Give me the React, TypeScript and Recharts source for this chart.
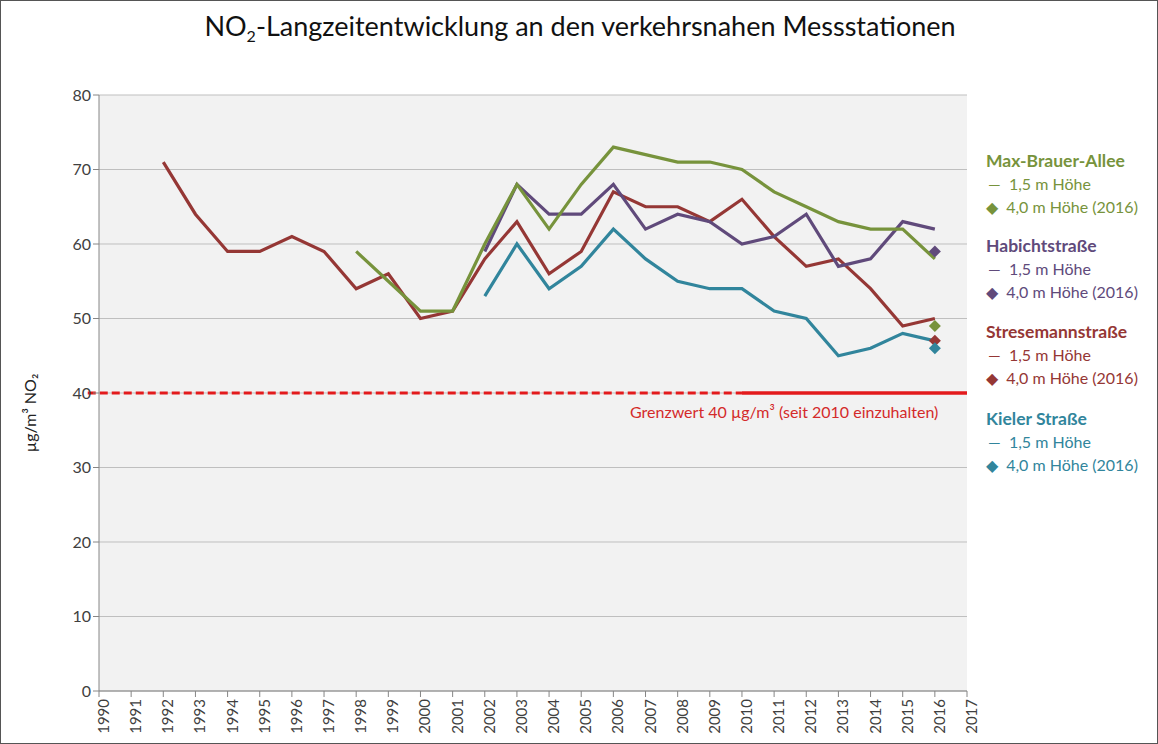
import { ComposedChart, Line, Scatter, XAxis, YAxis, CartesianGrid, ReferenceLine } from 'recharts';

// years on the x axis
const YEARS = [1990, 1991, 1992, 1993, 1994, 1995, 1996, 1997, 1998, 1999, 2000, 2001, 2002, 2003,
    2004, 2005, 2006, 2007, 2008, 2009, 2010, 2011, 2012, 2013, 2014, 2015, 2016, 2017];

// 1,5 m Höhe, one value per year (null = no measurement)
const MAX_BRAUER = [null, null, null, null, null, null, null, null, 59, 55, 51, 51, 60, 68,
    62, 68, 73, 72, 71, 71, 70, 67, 65, 63, 62, 62, 58, null];
const HABICHT = [null, null, null, null, null, null, null, null, null, null, null, null, 59, 68,
    64, 64, 68, 62, 64, 63, 60, 61, 64, 57, 58, 63, 62, null];
const STRESEMANN = [null, null, 71, 64, 59, 59, 61, 59, 54, 56, 50, 51, 58, 63,
    56, 59, 67, 65, 65, 63, 66, 61, 57, 58, 54, 49, 50, null];
const KIELER = [null, null, null, null, null, null, null, null, null, null, null, null, 53, 60,
    54, 57, 62, 58, 55, 54, 54, 51, 50, 45, 46, 48, 47, null];

// 4,0 m Höhe (2016)
const MARKER_YEAR = 2016;
const MAX_BRAUER_4M = 49;
const HABICHT_4M = 59;
const STRESEMANN_4M = 47;
const KIELER_4M = 46;

const Y_TICKS = [0, 10, 20, 30, 40, 50, 60, 70, 80];
const LIMIT = 40;
const LIMIT_FROM = 2010;

const GREEN = '#77933c';
const PURPLE = '#604a7b';
const RED = '#953735';
const TEAL = '#31859c';
const LIMIT_RED = '#e31a1c';

const FONT = 'Lato, "Open Sans", sans-serif';

const data = YEARS.map((year, i) => ({
    year,
    maxBrauer: MAX_BRAUER[i],
    habicht: HABICHT[i],
    stresemann: STRESEMANN[i],
    kieler: KIELER[i],
}));

const Diamond = (props: any) => {
    const { cx, cy, fill } = props;
    if (cx == null || cy == null) return <g />;
    const r = 6;
    return <polygon points={`${cx},${cy - r} ${cx + r},${cy} ${cx},${cy + r} ${cx - r},${cy}`} fill={fill} />;
};

const XTick = (props: any) => {
    const { x, y, payload } = props;
    return (
        <text x={x} y={y} dy={4} transform={`rotate(-90 ${x} ${y})`} textAnchor="end"
            dominantBaseline="central" fontSize={15} fill="#404040" fontFamily={FONT}>
            {payload.value}
        </text>
    );
};

const legendGroups = [
    { name: 'Max-Brauer-Allee', color: GREEN, top: 148 },
    { name: 'Habichtstraße', color: PURPLE, top: 233 },
    { name: 'Stresemannstraße', color: RED, top: 319 },
    { name: 'Kieler Straße', color: TEAL, top: 406 },
];

export default function App() {
    return (
        <div style={{ position: 'absolute', left: 0, top: 0, width: 1156, height: 742, border: '1px solid #555', background: '#fff', fontFamily: FONT }}>
            <div style={{ position: 'absolute', left: 0, width: 1158, top: 8, textAlign: 'center', fontSize: 27, color: '#111' }}>
                NO<sub style={{ fontSize: 16 }}>2</sub>-Langzeitentwicklung an den verkehrsnahen Messstationen
            </div>
            <div style={{ position: 'absolute', left: 28, top: 412, transform: 'translate(-50%, -50%) rotate(-90deg)', fontSize: 16, color: '#222', whiteSpace: 'nowrap' }}>
                µg/m³ NO₂
            </div>
            <ComposedChart width={1158} height={744} data={data}
                margin={{ top: 94, right: 192, bottom: 4, left: 38 }}>
                <CartesianGrid vertical={false} stroke="#bfbfbf" fill="#f2f2f2" />
                <XAxis dataKey="year" type="number" domain={[1990, 2017]} ticks={YEARS} interval={0}
                    stroke="#868686" tickSize={6} height={50} tick={<XTick />} />
                <YAxis domain={[0, 80]} ticks={Y_TICKS} width={60} stroke="#868686" tickSize={6}
                    tick={{ fontSize: 16, fill: '#404040', fontFamily: FONT }} />
                <ReferenceLine segment={[{ x: 1989.65, y: LIMIT }, { x: LIMIT_FROM, y: LIMIT }]} ifOverflow="visible"
                    stroke={LIMIT_RED} strokeWidth={3} strokeDasharray="8 4" />
                <ReferenceLine segment={[{ x: LIMIT_FROM, y: LIMIT }, { x: 2017, y: LIMIT }]}
                    stroke={LIMIT_RED} strokeWidth={3.5} />
                <Line dataKey="kieler" stroke={TEAL} strokeWidth={3.2} dot={false} isAnimationActive={false} />
                <Line dataKey="stresemann" stroke={RED} strokeWidth={3.2} dot={false} isAnimationActive={false} />
                <Line dataKey="habicht" stroke={PURPLE} strokeWidth={3.2} dot={false} isAnimationActive={false} />
                <Line dataKey="maxBrauer" stroke={GREEN} strokeWidth={3.2} dot={false} isAnimationActive={false} />
                <Scatter data={[{ year: MARKER_YEAR, v: HABICHT_4M }]} dataKey="v" fill={PURPLE} shape={<Diamond />} isAnimationActive={false} />
                <Scatter data={[{ year: MARKER_YEAR, v: MAX_BRAUER_4M }]} dataKey="v" fill={GREEN} shape={<Diamond />} isAnimationActive={false} />
                <Scatter data={[{ year: MARKER_YEAR, v: STRESEMANN_4M }]} dataKey="v" fill={RED} shape={<Diamond />} isAnimationActive={false} />
                <Scatter data={[{ year: MARKER_YEAR, v: KIELER_4M }]} dataKey="v" fill={TEAL} shape={<Diamond />} isAnimationActive={false} />
            </ComposedChart>
            <div style={{ position: 'absolute', left: 629, top: 401, fontSize: 16, color: '#d42a2a', whiteSpace: 'nowrap' }}>
                Grenzwert 40 µg/m³ (seit 2010 einzuhalten)
            </div>
            {legendGroups.map(g => (
                <div key={g.name} style={{ position: 'absolute', left: 985, top: g.top, color: g.color, fontSize: 16, lineHeight: '23px', whiteSpace: 'nowrap' }}>
                    <div style={{ fontWeight: 'bold', fontSize: 17.5 }}>{g.name}</div>
                    <div style={{ paddingLeft: 2 }}>—&nbsp; 1,5 m Höhe</div>
                    <div>◆&nbsp; 4,0 m Höhe (2016)</div>
                </div>
            ))}
        </div>
    );
}
